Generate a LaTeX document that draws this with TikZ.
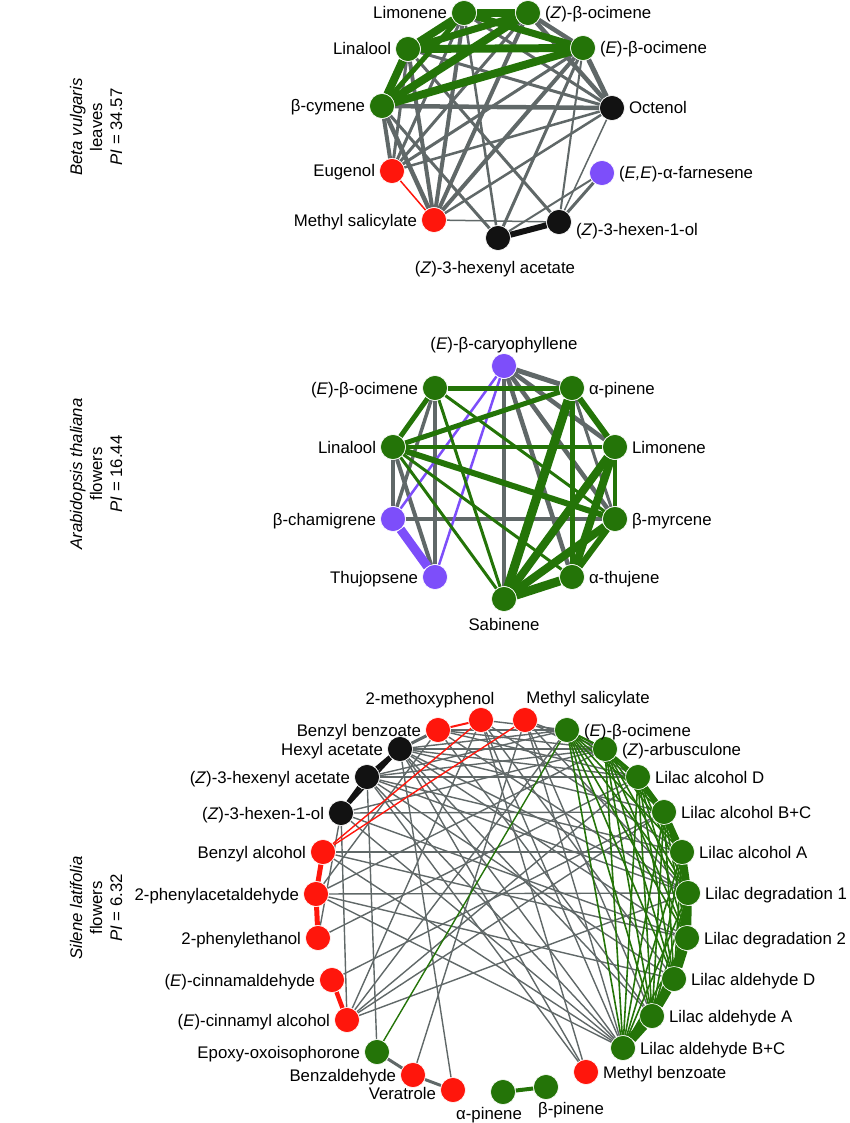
\documentclass[tikz,border=0pt]{standalone}
\usepackage{fontspec}
\setmainfont{Liberation Sans}
\usetikzlibrary{backgrounds}
\definecolor{ng}{RGB}{36,116,8}
\definecolor{nr}{RGB}{255,22,12}
\definecolor{np}{RGB}{125,78,250}
\definecolor{nk}{RGB}{18,18,18}
\definecolor{eg}{RGB}{96,104,104}
\newcommand\lblf{\fontsize{16.8}{20}\selectfont}
\begin{document}
\begin{tikzpicture}[x=1pt,y=-1pt,
  dot/.style={circle, draw=white, line width=0.6pt, minimum size=25pt, inner sep=0pt},
  G/.style={dot, fill=ng}, R/.style={dot, fill=nr}, P/.style={dot, fill=np}, K/.style={dot, fill=nk},
  lbl/.style={inner sep=0pt, text height=12pt, text depth=0pt, font=\lblf},
  lr/.style={lbl, anchor=west, xshift=4pt},
  ll/.style={lbl, anchor=east, xshift=-4pt},
  ge/.style={draw=ng}, ye/.style={draw=eg}, re/.style={draw=nr}, pe/.style={draw=np}, ke/.style={draw=nk},
  side/.style={rotate=90, align=center, font=\lblf, inner sep=0pt}]
\useasboundingbox (0,0) rectangle (850,1123);

% ---------- side labels ----------
\node[side] (s1) at (96,127) {\textit{Beta vulgaris}\\leaves\\\textit{PI} = 34.57};
\node[side] (s2) at (96,474) {\textit{Arabidopsis thaliana}\\flowers\\\textit{PI} = 16.44};
\node[side] (s3) at (96,908) {\textit{Silene latifolia}\\flowers\\\textit{PI} = 6.32};

% ---------- top network ----------
\node[G] (tlim) at (464,13) {};
\node[G] (tzoc) at (528,13) {};
\node[G] (tlin) at (408,49) {};
\node[G] (teoc) at (583,48) {};
\node[G] (tbcy) at (382,106) {};
\node[K] (toct) at (612,108) {};
\node[R] (teug) at (392,171) {};
\node[P] (tfar) at (602,173) {};
\node[R] (tms) at (434,220) {};
\node[K] (tzho) at (559,222) {};
\node[K] (tzha) at (498,238) {};

\node[ll] (tlimL) at (tlim.west) {Limonene};
\node[lr] (tzocL) at (tzoc.east) {(\textit{Z})-β-ocimene};
\node[ll] (tlinL) at (tlin.west) {Linalool};
\node[lr] (teocL) at (teoc.east) {(\textit{E})-β-ocimene};
\node[ll] (tbcyL) at (tbcy.west) {β-cymene};
\node[lr] (toctL) at (toct.east) {Octenol};
\node[ll] (teugL) at (teug.west) {Eugenol};
\node[lr] (tfarL) at (tfar.east) {(\textit{E,E})-α-farnesene};
\node[ll] (tmsL) at (tms.west) {Methyl salicylate};
\node[lr, yshift=-8pt] (tzhoL) at (tzho.east) {(\textit{Z})-3-hexen-1-ol};
\node[lbl] (tzhaL) at (495,267) {(\textit{Z})-3-hexenyl acetate};

\begin{pgfonlayer}{background}
\draw[ye, line width=3pt] (tlim) -- (toct);
\draw[ye, line width=3pt] (tlin) -- (toct);
\draw[ye, line width=4.5pt] (tzoc) -- (toct);
\draw[ye, line width=5pt] (teoc) -- (toct);
\draw[ye, line width=4.5pt] (tzoc) -- (teoc);
\draw[ye, line width=4.5pt] (tbcy) -- (toct);
\draw[ye, line width=2.5pt] (teug) -- (toct);
\draw[ye, line width=3pt] (teug) -- (teoc);
\draw[ye, line width=1.5pt] (toct) -- (tzho);
\draw[ye, line width=4pt] (tbcy) -- (teug);
\draw[ye, line width=4.5pt] (tbcy) -- (tms);
\draw[ye, line width=3pt] (tlin) -- (teug);
\draw[ye, line width=4pt] (tlin) -- (tms);
\draw[ye, line width=3pt] (tlim) -- (teug);
\draw[ye, line width=4pt] (tlim) -- (tms);
\draw[ye, line width=4pt] (tzoc) -- (tms);
\draw[ye, line width=4pt] (teoc) -- (tms);
\draw[ye, line width=3pt] (tzoc) -- (teug);
\draw[ye, line width=2.5pt] (toct) -- (tms);
\draw[ye, line width=1.5pt] (tms) -- (tzho);
\draw[ye, line width=3pt] (tfar) -- (tzho);
\draw[ye, line width=2pt] (tfar) -- (tzha);
\draw[ye, line width=3pt] (teoc) -- (tzha);
\draw[ye, line width=3pt] (tlin) -- (tzho);
\draw[ye, line width=3pt] (tbcy) -- (tzha);
\draw[ye, line width=2.5pt] (tlim) -- (tzha);
\draw[ye, line width=2pt] (teoc) -- (tzho);
\draw[re, line width=1.5pt] (teug) -- (tms);
\draw[ke, line width=6pt] (tzha) -- (tzho);
\draw[ge, line width=8pt] (tlim) -- (tzoc);
\draw[ge, line width=8pt] (tlim) -- (tlin);
\draw[ge, line width=7pt] (tlim) -- (teoc);
\draw[ge, line width=7pt] (tlin) -- (tzoc);
\draw[ge, line width=8pt] (tlin) -- (teoc);
\draw[ge, line width=8pt] (tlin) -- (tbcy);
\draw[ge, line width=5pt] (tbcy) -- (tlim);
\draw[ge, line width=8pt] (tbcy) -- (tzoc);
\draw[ge, line width=8pt] (tbcy) -- (teoc);
\end{pgfonlayer}

% ---------- middle network ----------
\node[P] (mcar) at (504,366) {};
\node[G] (meoc) at (435,388) {};
\node[G] (mapi) at (572,388) {};
\node[G] (mlin) at (393,447) {};
\node[G] (mlim) at (615,447) {};
\node[P] (mcha) at (393,519) {};
\node[G] (mmyr) at (615,519) {};
\node[P] (mthu) at (435,577) {};
\node[G] (mthj) at (572,577) {};
\node[G] (msab) at (504,599) {};

\node[lbl] (mcarL) at (504,343) {(\textit{E})-β-caryophyllene};
\node[ll] (meocL) at (meoc.west) {(\textit{E})-β-ocimene};
\node[lr] (mapiL) at (mapi.east) {α-pinene};
\node[ll] (mlinL) at (mlin.west) {Linalool};
\node[lr] (mlimL) at (mlim.east) {Limonene};
\node[ll] (mchaL) at (mcha.west) {β-chamigrene};
\node[lr] (mmyrL) at (mmyr.east) {β-myrcene};
\node[ll] (mthuL) at (mthu.west) {Thujopsene};
\node[lr] (mthjL) at (mthj.east) {α-thujene};
\node[lbl] (msabL) at (504,624) {Sabinene};

\begin{pgfonlayer}{background}
\draw[ye, line width=5pt] (mcar) -- (mapi);
\draw[ye, line width=4pt] (mcar) -- (msab);
\draw[ye, line width=4.5pt] (mcar) -- (mlim);
\draw[ye, line width=4.5pt] (mcar) -- (mmyr);
\draw[ye, line width=4.5pt] (mcar) -- (mthj);
\draw[ye, line width=4pt] (meoc) -- (mthu);
\draw[ye, line width=3.5pt] (meoc) -- (mcha);
\draw[ye, line width=4pt] (mlin) -- (mcha);
\draw[ye, line width=4pt] (mlin) -- (mthu);
\draw[ye, line width=3.5pt] (mcha) -- (mmyr);
\draw[ye, line width=3pt] (mapi) -- (mmyr);
\draw[pe, line width=2.5pt] (mcar) -- (mcha);
\draw[pe, line width=2.5pt] (mcar) -- (mthu);
\draw[pe, line width=9pt] (mcha) -- (mthu);
\draw[ge, line width=5pt] (meoc) -- (mapi);
\draw[ge, line width=5pt] (meoc) -- (mlin);
\draw[ge, line width=3pt] (meoc) -- (mmyr);
\draw[ge, line width=3pt] (meoc) -- (msab);
\draw[ge, line width=5pt] (mlin) -- (mapi);
\draw[ge, line width=4pt] (mlin) -- (mlim);
\draw[ge, line width=6pt] (mlin) -- (mmyr);
\draw[ge, line width=3pt] (mlin) -- (mthj);
\draw[ge, line width=3pt] (mlin) -- (msab);
\draw[ge, line width=6pt] (mapi) -- (mlim);
\draw[ge, line width=5pt] (mapi) -- (mthj);
\draw[ge, line width=9pt] (mapi) -- (msab);
\draw[ge, line width=4pt] (mlim) -- (mmyr);
\draw[ge, line width=8pt] (mlim) -- (mthj);
\draw[ge, line width=8pt] (mlim) -- (msab);
\draw[ge, line width=6pt] (mmyr) -- (mthj);
\draw[ge, line width=8pt] (mmyr) -- (msab);
\draw[ge, line width=9pt] (mthj) -- (msab);
\end{pgfonlayer}

% ---------- bottom network ----------
\node[R] (bbb) at (438,730) {};
\node[R] (bmp) at (481,720) {};
\node[R] (bms) at (525,720) {};
\node[G] (beo) at (567,730) {};
\node[G] (bza) at (605,749) {};
\node[G] (blad) at (638,777) {};
\node[G] (blabc) at (664,812) {};
\node[G] (blaa) at (682,852) {};
\node[G] (bld1) at (688,893) {};
\node[G] (bld2) at (687,938) {};
\node[G] (bldd) at (674,979) {};
\node[G] (blda) at (652,1016) {};
\node[G] (bldbc) at (623,1048) {};
\node[R] (bmb) at (586,1072) {};
\node[G] (bbp) at (546,1087) {};
\node[G] (bap) at (503,1092) {};
\node[R] (bve) at (453,1090) {};
\node[R] (bbz) at (413,1075) {};
\node[G] (bep) at (377,1052) {};
\node[R] (bcal) at (347,1020) {};
\node[R] (bca) at (332,980) {};
\node[R] (bpe) at (318,938) {};
\node[R] (bpa) at (316,894) {};
\node[R] (bba) at (323,852) {};
\node[K] (bzho) at (341,813) {};
\node[K] (bzha) at (367,777) {};
\node[K] (bha) at (400,749) {};

\node[ll] (bbbL) at (bbb.west) {Benzyl benzoate};
\node[lbl] (bmpL) at (430,698) {2-methoxyphenol};
\node[lbl] (bmsL) at (588,697) {Methyl salicylate};
\node[lr] (beoL) at (beo.east) {(\textit{E})-β-ocimene};
\node[lr] (bzaL) at (bza.east) {(\textit{Z})-arbusculone};
\node[lr] (bladL) at (blad.east) {Lilac alcohol D};
\node[lr] (blabcL) at (blabc.east) {Lilac alcohol B+C};
\node[lr] (blaaL) at (blaa.east) {Lilac alcohol A};
\node[lr] (bld1L) at (bld1.east) {Lilac degradation 1};
\node[lr] (bld2L) at (bld2.east) {Lilac degradation 2};
\node[lr] (blddL) at (bldd.east) {Lilac aldehyde D};
\node[lr] (bldaL) at (blda.east) {Lilac aldehyde A};
\node[lr] (bldbcL) at (bldbc.east) {Lilac aldehyde B+C};
\node[lr] (bmbL) at (bmb.east) {Methyl benzoate};
\node[lbl] (bbpL) at (571,1108) {β-pinene};
\node[lbl] (bapL) at (489,1113) {α-pinene};
\node[ll, yshift=-3pt] (bveL) at (bve.west) {Veratrole};
\node[ll] (bbzL) at (bbz.west) {Benzaldehyde};
\node[ll] (bepL) at (bep.west) {Epoxy-oxoisophorone};
\node[ll] (bcalL) at (bcal.west) {(\textit{E})-cinnamyl alcohol};
\node[ll] (bcaL) at (bca.west) {(\textit{E})-cinnamaldehyde};
\node[ll] (bpeL) at (bpe.west) {2-phenylethanol};
\node[ll] (bpaL) at (bpa.west) {2-phenylacetaldehyde};
\node[ll] (bbaL) at (bba.west) {Benzyl alcohol};
\node[ll] (bzhoL) at (bzho.west) {(\textit{Z})-3-hexen-1-ol};
\node[ll] (bzhaL) at (bzha.west) {(\textit{Z})-3-hexenyl acetate};
\node[ll] (bhaL) at (bha.west) {Hexyl acetate};

\begin{pgfonlayer}{background}
% grey links
\foreach \b in {beo,bza,blad,blabc,bld1,bld2,blda,bldbc,bve,bmb}
  \draw[ye, line width=1.4pt] (bha) -- (\b);
\foreach \b in {beo,bza,blad,blaa,bld1,bldd,bldbc,bep,bmb}
  \draw[ye, line width=1.4pt] (bzha) -- (\b);
\foreach \b in {bza,blabc,bld2,bldbc,bcal,bpe}
  \draw[ye, line width=1.4pt] (bzho) -- (\b);
\foreach \b in {beo,bza,blad,bld1,blda,bpa}
  \draw[ye, line width=1.4pt] (bbb) -- (\b);
\foreach \b in {beo,blaa,bldd,bldbc,bmb,bcal}
  \draw[ye, line width=1.4pt] (bmp) -- (\b);
\foreach \b in {bza,blad,bld1,blda,bbz,bldbc}
  \draw[ye, line width=1.4pt] (bms) -- (\b);
\foreach \b in {blaa,bld2,bldbc}
  \draw[ye, line width=1.4pt] (bba) -- (\b);
\foreach \b in {bza,bld1,bldd,bldbc}
  \draw[ye, line width=1.4pt] (bpa) -- (\b);
\draw[ye, line width=1.4pt] (bpe) -- (blad);
\draw[ye, line width=1.4pt] (bca) -- (blabc);
\foreach \b in {beo,blad,blabc,bld1}
  \draw[ye, line width=1.4pt] (bcal) -- (\b);
\draw[ye, line width=3pt] (bbb) -- (bha);
\draw[ye, line width=3pt] (bep) -- (bbz);
\draw[ye, line width=3pt] (bbz) -- (bve);
% green cluster
\foreach \a [count=\i] in {beo,bza,blad,blabc,blaa,bld1,bld2,bldd,blda,bldbc}{
  \foreach \b [count=\j] in {beo,bza,blad,blabc,blaa,bld1,bld2,bldd,blda,bldbc}{
    \ifnum\j>\i \draw[ge, line width=1.6pt] (\a) -- (\b); \fi
  }
}
\draw[ge, line width=2.2pt] (beo) -- (bza);
\draw[ge, line width=3pt] (bza) -- (blad);
\draw[ge, line width=4.5pt] (blad) -- (blabc);
\draw[ge, line width=6pt] (blabc) -- (blaa);
\draw[ge, line width=7pt] (blaa) -- (bld1);
\draw[ge, line width=8pt] (bld1) -- (bld2);
\draw[ge, line width=9pt] (bld2) -- (bldd);
\draw[ge, line width=9pt] (bldd) -- (blda);
\draw[ge, line width=10pt] (blda) -- (bldbc);
\draw[ge, line width=4pt] (blaa) -- (bld2);
\draw[ge, line width=4.5pt] (bld1) -- (bldd);
\draw[ge, line width=5pt] (bld2) -- (blda);
\draw[ge, line width=5.5pt] (bldd) -- (bldbc);
\draw[ge, line width=1.4pt] (bep) -- (beo);
\draw[ge, line width=4pt] (bap) -- (bbp);
% red and black
\draw[re, line width=2pt] (bbb) -- (bmp);
\draw[re, line width=1.4pt] (bmp) -- (bba);
\draw[re, line width=1.4pt] (bms) -- (bba);
\draw[re, line width=5pt] (bba) -- (bpa);
\draw[re, line width=5pt] (bpa) -- (bpe);
\draw[re, line width=4.5pt] (bca) -- (bcal);
\draw[ke, line width=2pt] (bha) -- (bzho);
\draw[ke, line width=5pt] (bha) -- (bzha);
\draw[ke, line width=5pt] (bzha) -- (bzho);
\end{pgfonlayer}
\end{tikzpicture}
\end{document}
